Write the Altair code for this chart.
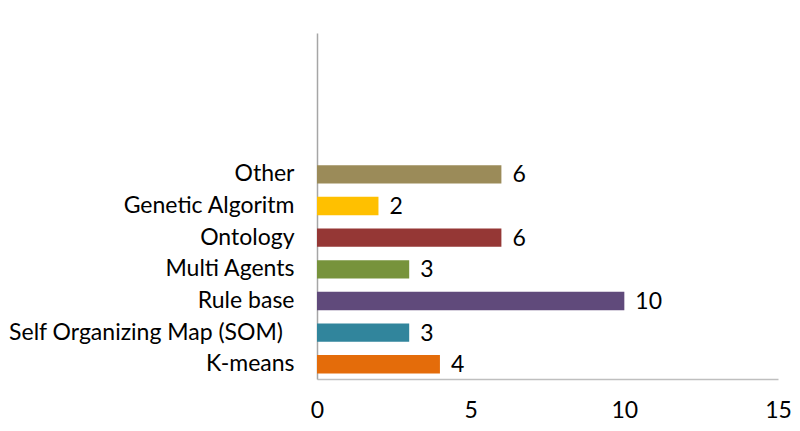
import altair as alt
import pandas as pd

categories = ["K-means", "Self Organizing Map (SOM)\u2002\u200b", "Rule base", "Multi Agents",
              "Ontology", "Genetic Algoritm", "Other"]
values = [4, 3, 10, 3, 6, 2, 6]
colors = ["#E46C0A", "#31859C", "#604A7B", "#77933C", "#953735", "#FFC000", "#9B8B59"]
blank_slots = ["_1", "_2", "_3", "_4"]
x_ticks = [0, 5, 10, 15]

df = pd.DataFrame({"cat": categories, "val": values})
domain = blank_slots + categories[::-1]
FONT = "Lato"
FS = 23

y_enc = alt.Y("cat:N", sort=domain,
              scale=alt.Scale(domain=domain, paddingInner=0.42, paddingOuter=0.175),
              axis=alt.Axis(title=None, ticks=False, labelFontSize=FS, labelFont=FONT,
                            labelColor="#000000", labelPadding=23, labelLimit=0,
                            domainColor="#A6A6A6", domainWidth=1.5,
                            labelExpr="slice(datum.value,0,1)=='_' ? '' : datum.value"))
x_enc = alt.X("val:Q", scale=alt.Scale(domain=[0, 15], nice=False),
              axis=alt.Axis(title=None, values=x_ticks, ticks=False, grid=False,
                            labelFlush=False,
                            labelFontSize=FS, labelFont=FONT, labelColor="#000000",
                            labelPadding=20, domainColor="#BFBFBF", domainWidth=1.5))

bars = alt.Chart(df).mark_bar().encode(
    y=y_enc, x=x_enc,
    color=alt.Color("cat:N", scale=alt.Scale(domain=categories, range=colors), legend=None),
)
text = alt.Chart(df).mark_text(align="left", dx=11, dy=1, fontSize=FS, font=FONT, color="#000000").encode(
    y=alt.Y("cat:N", sort=domain), x="val:Q", text="val:Q")

chart = (bars + text).properties(
    width=461, height=346,
    autosize=alt.AutoSizeParams(type="none"),
    padding={"left": 309, "top": 25, "right": 14, "bottom": 45},
).configure_view(stroke=None).configure_axis(grid=False)

chart.save("out.html", embed_options={"renderer": "svg", "actions": False})
